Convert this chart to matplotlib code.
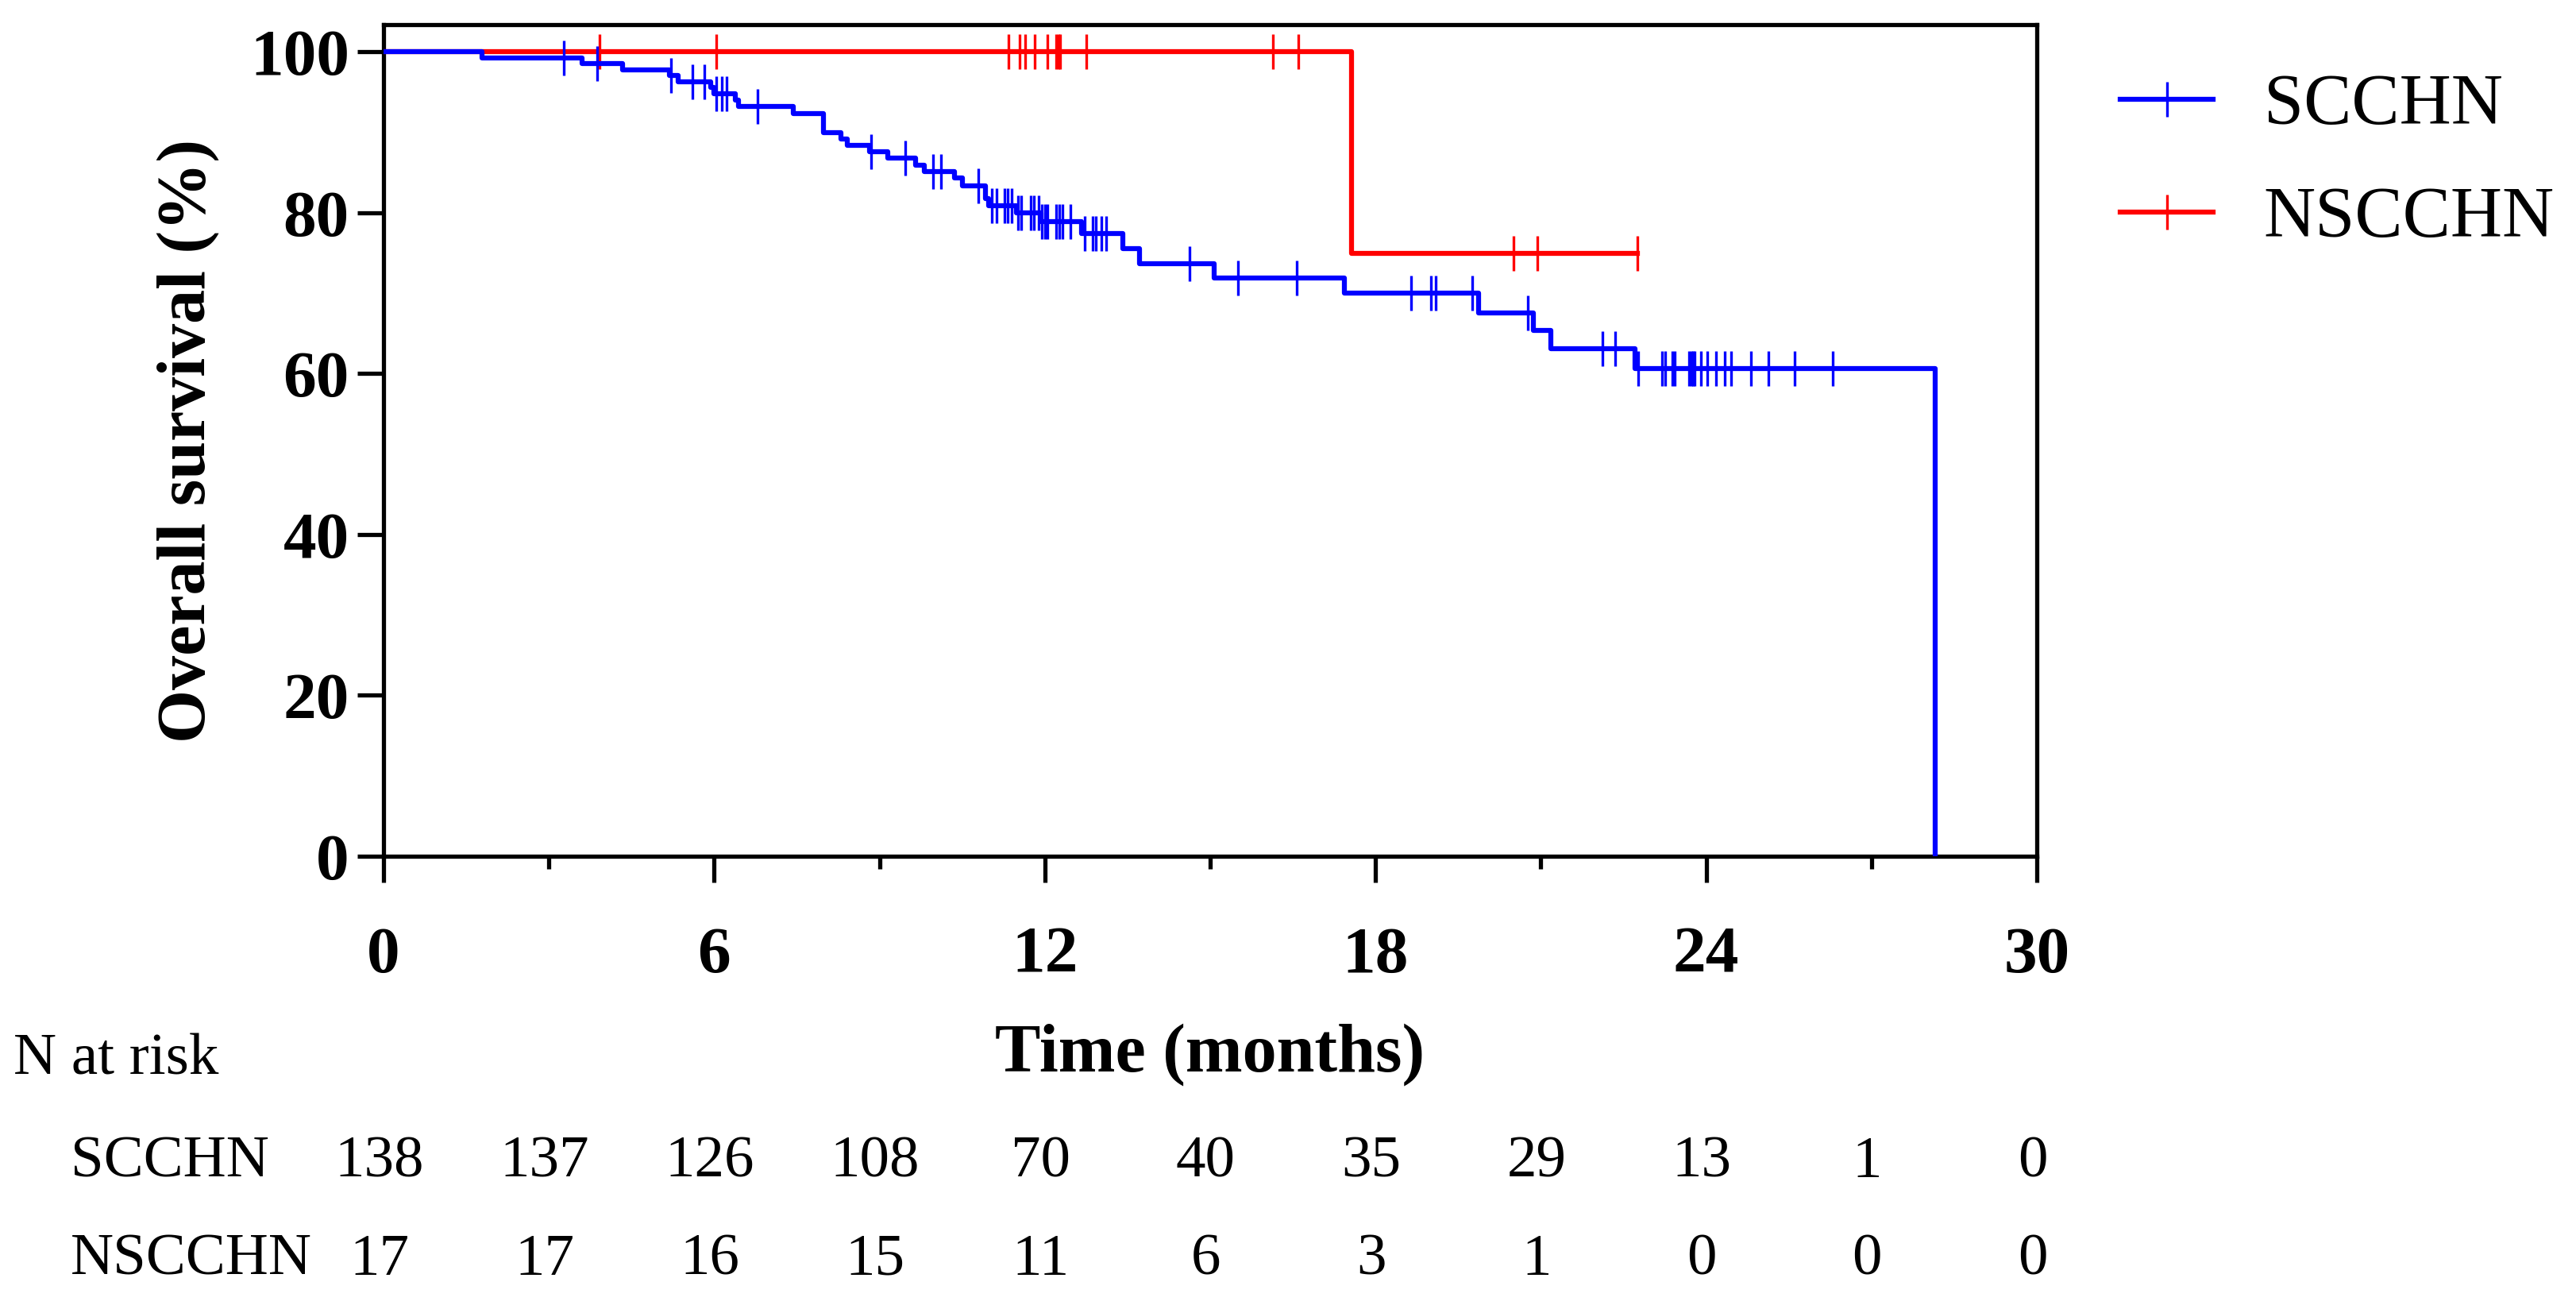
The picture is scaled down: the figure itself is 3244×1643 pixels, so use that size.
import numpy as np
import matplotlib
matplotlib.use("Agg")
import matplotlib.pyplot as plt
from matplotlib.lines import Line2D

plt.rcParams['font.family'] = ['Liberation Serif', 'DejaVu Serif']

# Kaplan-Meier steps (months, survival %)
scchn_t = [0, 1.78, 3.60, 4.33, 5.18, 5.34, 5.93, 6.00, 6.39, 6.44, 7.44, 7.98, 8.30, 8.41,
           8.82, 9.15, 9.65, 9.81, 10.36, 10.51, 10.92, 10.98, 11.48, 11.93, 12.67, 13.41,
           13.72, 15.07, 17.44, 19.87, 20.87, 21.18, 22.71, 28.16]
scchn_s = [100, 99.28, 98.55, 97.8, 97.05, 96.3, 95.6, 94.85, 94.0, 93.2, 92.35, 90.0, 89.2, 88.4,
           87.6, 86.8, 85.9, 85.1, 84.3, 83.4, 81.8, 80.9, 80.0, 78.9, 77.4, 75.6,
           73.7, 71.9, 70.0, 67.6, 65.4, 63.1, 60.6, 0]
scchn_cens = [3.27, 3.87, 5.22, 5.60, 5.82, 6.03, 6.14, 6.23, 6.78, 8.84, 9.46, 9.97, 10.12,
              10.79, 11.04, 11.13, 11.27, 11.33, 11.40, 11.51, 11.57, 11.75, 11.80, 11.89,
              11.95, 12.00, 12.05, 12.21, 12.26, 12.32, 12.46, 12.72, 12.87, 12.92, 13.03,
              13.11, 14.63, 15.51, 16.57, 18.64, 19.01, 19.09, 19.76, 20.77, 22.12, 22.35,
              22.77, 23.20, 23.26, 23.38, 23.43, 23.69, 23.73, 23.76, 23.79, 23.90, 24.02,
              24.18, 24.34, 24.45, 24.81, 25.13, 25.60, 26.29]

nscchn_t = [0, 17.56, 22.75]
nscchn_s = [100, 75, 75]
nscchn_cens = [3.92, 6.03, 11.34, 11.54, 11.64, 11.81, 12.04, 12.20, 12.25, 12.28, 12.75,
               16.14, 16.60, 20.50, 20.93, 22.75]

risk_times = [0, 3, 6, 9, 12, 15, 18, 21, 24, 27, 30]
risk_scchn = [138, 137, 126, 108, 70, 40, 35, 29, 13, 1, 0]
risk_nscchn = [17, 17, 16, 15, 11, 6, 3, 1, 0, 0, 0]


def level_at(t_steps, s_steps, times):
    idx = np.searchsorted(t_steps, times, side='right') - 1
    return np.array(s_steps)[idx]


fig = plt.figure(figsize=(32.44, 16.43), dpi=100)
ax = fig.add_axes([0.1489, 0.3439, 0.6418, 0.6372])

lw = 4.5
ms = 31
mew = 2.4
ax.step(nscchn_t, nscchn_s, where='post', color='#ff0000', lw=lw, zorder=3)
ax.plot(nscchn_cens, level_at(nscchn_t, nscchn_s, nscchn_cens), ls='none', marker='|',
        ms=ms, mew=mew, color='#ff0000', zorder=3)
ax.step(scchn_t, scchn_s, where='post', color='#0000ff', lw=lw, zorder=4)
ax.plot(scchn_cens, level_at(scchn_t, scchn_s, scchn_cens), ls='none', marker='|',
        ms=ms, mew=mew, color='#0000ff', zorder=4)

ax.set_xlim(0, 30)
ax.set_ylim(0, 103.4)
ax.set_xticks([0, 6, 12, 18, 24, 30])
ax.set_xticks([3, 9, 15, 21, 27], minor=True)
ax.set_yticks([0, 20, 40, 60, 80, 100])
for sp in ax.spines.values():
    sp.set_linewidth(3.8)
ax.tick_params(axis='both', which='major', length=24, width=3.8, labelsize=60)
ax.tick_params(axis='x', which='minor', length=11.5, width=3.8)
ax.tick_params(axis='x', which='major', pad=40)
ax.tick_params(axis='y', which='major', pad=7)
for lab in ax.get_xticklabels() + ax.get_yticklabels():
    lab.set_fontweight('bold')

ax.set_xlabel('Time (months)', fontsize=62, fontweight='bold')
ax.xaxis.set_label_coords(0.5, -0.201)
ax.set_ylabel('Overall survival (%)', fontsize=62, fontweight='bold')
ax.yaxis.set_label_coords(-0.099, 0.5)

handles = [
    Line2D([], [], color='#0000ff', lw=lw, marker='|', ms=ms, mew=mew),
    Line2D([], [], color='#ff0000', lw=lw, marker='|', ms=ms, mew=mew),
]
fig.legend(handles, ['SCCHN', 'NSCCHN'], loc='upper left', bbox_to_anchor=(0.798, 0.993),
           frameon=False, fontsize=65, handlelength=1.3, handletextpad=0.7,
           labelspacing=0.66, numpoints=1)

# number at risk table
row1_y = 0.109
row2_y = 0.034
fig.text(0.0052, 0.1875, 'N at risk', fontsize=54, ha='left', va='center')
fig.text(0.0274, row1_y, 'SCCHN', fontsize=54, ha='left', va='center')
fig.text(0.0274, row2_y, 'NSCCHN', fontsize=54, ha='left', va='center')
trans_top = matplotlib.transforms.blended_transform_factory(ax.transData, fig.transFigure)
for t, a, b in zip(risk_times, risk_scchn, risk_nscchn):
    ax.text(t - 0.08, row1_y, str(a), transform=trans_top, fontsize=54, ha='center', va='center')
    ax.text(t - 0.08, row2_y, str(b), transform=trans_top, fontsize=54, ha='center', va='center')

fig.savefig('out.png', dpi=100)
